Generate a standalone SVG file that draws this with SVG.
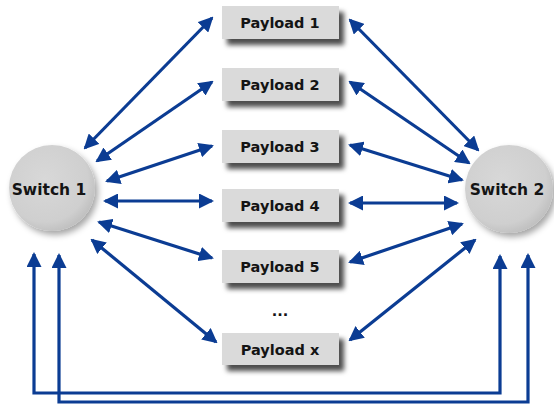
<svg xmlns="http://www.w3.org/2000/svg" width="554" height="404" viewBox="0 0 554 404">
<style>
.box{fill:#dadada;}
.lbl{font-family:"DejaVu Sans",Verdana,sans-serif;font-weight:bold;font-size:14.5px;fill:#141414;text-anchor:middle;dominant-baseline:central;}
.sw{font-size:15.5px;}
.ln{fill:none;stroke:#0b3c93;stroke-width:3.2;marker-start:url(#ah);marker-end:url(#ah);}
</style>
<defs>
<marker id="ah" viewBox="0 0 15 15" refX="13" refY="7.5" markerWidth="15" markerHeight="15" markerUnits="userSpaceOnUse" orient="auto-start-reverse">
<path d="M0,0 L15,7.5 L0,15 z" fill="#0b3c93"/>
</marker>
<filter id="sh" x="-20%" y="-30%" width="150%" height="180%">
<feGaussianBlur in="SourceAlpha" stdDeviation="2.5"/>
<feOffset dx="5" dy="6" result="b"/>
<feFlood flood-color="#000" flood-opacity="0.7"/>
<feComposite in2="b" operator="in"/>
<feMerge><feMergeNode/><feMergeNode in="SourceGraphic"/></feMerge>
</filter>
<filter id="csh" x="-30%" y="-30%" width="170%" height="170%">
<feGaussianBlur in="SourceAlpha" stdDeviation="3"/>
<feOffset dx="3" dy="4" result="b"/>
<feFlood flood-color="#000" flood-opacity="0.35"/>
<feComposite in2="b" operator="in"/>
<feMerge><feMergeNode/><feMergeNode in="SourceGraphic"/></feMerge>
</filter>
<radialGradient id="cg" cx="0.42" cy="0.4" r="0.62">
<stop offset="0" stop-color="#d8d8d8"/>
<stop offset="0.8" stop-color="#cfcfcf"/>
<stop offset="1" stop-color="#c0c0c0"/>
</radialGradient>
</defs>
<g id="connectors">
<line class="ln" x1="85" y1="148" x2="212" y2="18"/>
<line class="ln" x1="97" y1="161" x2="212" y2="82"/>
<line class="ln" x1="107" y1="181" x2="212" y2="146"/>
<line class="ln" x1="105" y1="201" x2="212" y2="201"/>
<line class="ln" x1="99" y1="222" x2="212" y2="258"/>
<line class="ln" x1="92" y1="240" x2="216" y2="342"/>
<line class="ln" x1="350" y1="20" x2="478" y2="150"/>
<line class="ln" x1="350" y1="82" x2="469" y2="163"/>
<line class="ln" x1="350" y1="145" x2="462" y2="180"/>
<line class="ln" x1="350" y1="203" x2="457" y2="203"/>
<line class="ln" x1="350" y1="262" x2="462" y2="224"/>
<line class="ln" x1="350" y1="340" x2="475" y2="240"/>
<path class="ln" d="M34,254 V393 H500 V256"/>
<path class="ln" d="M59,255 V402 H528 V255"/>
</g>
<g id="switch1"><circle cx="52" cy="188" r="43" fill="url(#cg)" filter="url(#csh)"/><text class="lbl sw" x="49" y="190">Switch 1</text></g>
<g id="switch2"><circle cx="509" cy="189" r="44" fill="url(#cg)" filter="url(#csh)"/><text class="lbl sw" x="507" y="190">Switch 2</text></g>
<g id="payload1"><rect class="box" x="222" y="6" width="117" height="33" filter="url(#sh)"/><text class="lbl" x="280" y="23">Payload 1</text></g>
<g id="payload2"><rect class="box" x="222" y="68" width="117" height="33" filter="url(#sh)"/><text class="lbl" x="280" y="85">Payload 2</text></g>
<g id="payload3"><rect class="box" x="222" y="130" width="117" height="33" filter="url(#sh)"/><text class="lbl" x="280" y="147">Payload 3</text></g>
<g id="payload4"><rect class="box" x="222" y="189" width="117" height="33" filter="url(#sh)"/><text class="lbl" x="280" y="206">Payload 4</text></g>
<g id="payload5"><rect class="box" x="222" y="250" width="117" height="33" filter="url(#sh)"/><text class="lbl" x="280" y="267">Payload 5</text></g>
<g id="dots"><text class="lbl" x="280" y="311">...</text></g>
<g id="payloadx"><rect class="box" x="222" y="333" width="117" height="32" filter="url(#sh)"/><text class="lbl" x="280" y="350">Payload x</text></g>
</svg>
